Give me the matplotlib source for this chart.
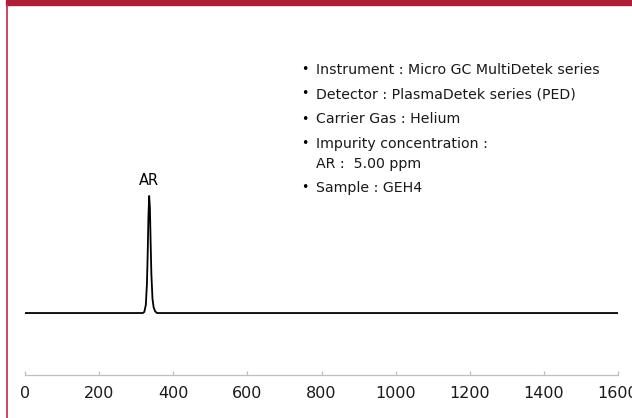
import matplotlib
matplotlib.use('Agg')
import matplotlib.pyplot as plt
from matplotlib.patches import Rectangle
from matplotlib.lines import Line2D

# Chromatogram: retention time vs detector signal (baseline = 0, AR peak = 1)
time = [0, 318, 322, 326, 329, 331, 333, 335, 337, 339, 341, 344, 347, 351, 356, 1600]
signal = [0, 0, 0.01, 0.07, 0.25, 0.5, 0.82, 1.0, 0.9, 0.6, 0.33, 0.12, 0.05, 0.015, 0, 0]

peak_name = 'AR'
peak_time = 335
peak_height = 1.0

x_ticks = [0, 200, 400, 600, 800, 1000, 1200, 1400, 1600]

info_lines = [
    'Instrument : Micro GC MultiDetek series',
    'Detector : PlasmaDetek series (PED)',
    'Carrier Gas : Helium',
    'Impurity concentration :\nAR :  5.00 ppm',
    'Sample : GEH4',
]

W, H = 632, 418
fig = plt.figure(figsize=(W / 100, H / 100), dpi=100)

# plot area in pixels: x 25..618, axis line at y=374.7, top at y=20
ax = fig.add_axes([25 / W, 1 - 374.7 / H, 593 / W, (374.7 - 20) / H])
ax.plot(time, signal, color='black', lw=1.3, solid_joinstyle='round')
ax.set_xlim(0, 1600)
ax.set_ylim(-0.527, 2.504)
ax.set_xticks(x_ticks)
ax.set_yticks([])
for s in ['left', 'right', 'top']:
    ax.spines[s].set_visible(False)
ax.spines['bottom'].set_color('#bfbfbf')
ax.spines['bottom'].set_linewidth(0.9)
ax.tick_params(axis='x', direction='in', length=3, width=0.9, color='#bfbfbf',
               pad=8, labelsize=11.5, labelcolor='#1a1a1a')
ax.set_facecolor('none')

ax.annotate(peak_name, (peak_time, peak_height), xytext=(0, 6), textcoords='offset points',
            ha='center', va='bottom', fontsize=10.5)

# info text block, one row per rendered line (px from top)
row_y = [70, 94, 119, 144, 164, 188]
rows = []
for txt in info_lines:
    parts = txt.split('\n')
    rows.append((True, parts[0]))
    for p in parts[1:]:
        rows.append((False, p))
for (bullet, txt), y in zip(rows, row_y):
    if bullet:
        fig.text(305 / W, 1 - y / H, '\u2022', ha='center', va='center', fontsize=9)
    fig.text(316 / W, 1 - y / H, txt, ha='left', va='center', fontsize=10.2, color='#1a1a1a')

# frame decorations: dark red top bar and red left rule
fig.patches.append(Rectangle((6 / W, 1 - 5 / H), 1, 5 / H, transform=fig.transFigure,
                             color='#ad1e38', zorder=0))
fig.lines.append(Line2D([6.5 / W, 6.5 / W], [0, 1 - 5 / H], transform=fig.transFigure,
                        color='#c8283f', lw=1.2))

fig.savefig('out.png', dpi=100)
